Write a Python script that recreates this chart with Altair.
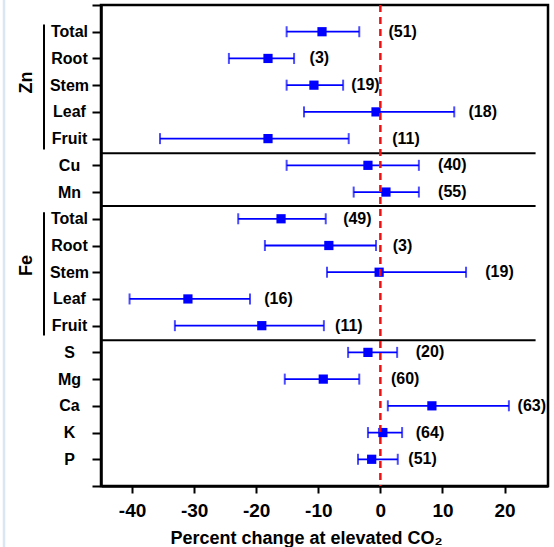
import json
import altair as alt
import pandas as pd

# ---- data ----
row_labels = ["Total", "Root", "Stem", "Leaf", "Fruit", "Cu", "Mn",
              "Total", "Root", "Stem", "Leaf", "Fruit", "S", "Mg", "Ca", "K", "P"]
means = [-9.4, -18.1, -10.7, -0.7, -18.1, -2.0, 0.9,
         -16.0, -8.3, -0.2, -31.0, -19.1, -2.0, -9.2, 8.3, 0.4, -1.4]
lows = [-15.1, -24.4, -15.1, -12.3, -35.5, -15.1, -4.3,
        -22.9, -18.6, -8.6, -40.4, -33.1, -5.2, -15.4, 1.2, -2.0, -3.6]
highs = [-3.4, -13.9, -6.0, 11.9, -5.1, 6.2, 6.2,
         -8.8, -0.7, 13.8, -21.0, -9.1, 2.7, -3.4, 20.7, 3.5, 2.8]
counts = ["(51)", "(3)", "(19)", "(18)", "(11)", "(40)", "(55)",
          "(49)", "(3)", "(19)", "(16)", "(11)", "(20)", "(60)", "(63)", "(64)", "(51)"]
count_x = [1.3, -11.4, -4.7, 14.2, 1.9, 9.3, 9.3,
           -6.0, 2.0, 16.9, -18.7, -7.3, 5.7, 1.7, 22.1, 5.7, 4.5]

group_breaks = [4.55, 6.52, 11.55]
group_names = ["Zn", "Fe"]
group_start = [-0.27, 6.76]
group_end = [4.41, 11.37]
group_label_row = [1.9, 8.75]

x_ticks = [-40, -30, -20, -10, 0, 10, 20]
x_domain = [-45, 27]
y_domain = [-1, 17]

FONT = "Liberation Sans"
BLUE = "#0000ff"

df = pd.DataFrame({
    "row": list(range(len(row_labels))),
    "name": row_labels,
    "mean": means,
    "lo": lows,
    "hi": highs,
    "n": counts,
    "nx": count_x,
})

xs = alt.Scale(domain=x_domain, nice=False, zero=False)
ys = alt.Scale(domain=y_domain, nice=False, zero=False, reverse=True)

label_arr = json.dumps(row_labels)
y_axis = alt.Axis(
    values=list(range(-1, 18)),
    labelExpr=f"datum.value >= 0 && datum.value <= 16 ? {label_arr}[datum.value] : ''",
    labelOverlap=False,
    tickSize=9, tickWidth=2, tickColor="black",
    domainWidth=2.5, domainColor="black",
    labelAlign="center", labelBaseline="middle", labelPadding=23,
    labelFont=FONT, labelFontSize=16, labelFontWeight="bold", labelColor="black",
    grid=False, title=None,
)
x_axis = alt.Axis(
    values=x_ticks, labelExpr="'' + datum.value",
    labelOverlap=False,
    tickSize=7, tickWidth=2, tickColor="black",
    domainWidth=2.5, domainColor="black",
    labelFont=FONT, labelFontSize=19, labelFontWeight="bold", labelColor="black",
    labelPadding=8, labelFlush=False,
    grid=False,
    title="Percent change at elevated CO₂",
    titleFont=FONT, titleFontSize=18, titleFontWeight="bold", titleColor="black",
    titleBaseline="alphabetic", titleY=57, titleX=205, titleAlign="center",
)

X = lambda f: alt.X(f, scale=xs, axis=x_axis)
Y = lambda f: alt.Y(f, scale=ys, axis=y_axis)

base = alt.Chart(df)

bars = base.mark_rule(color=BLUE, strokeWidth=1.8).encode(
    x=X("lo:Q"), x2="hi:Q", y=Y("row:Q"),
)
caps = base.transform_fold(["lo", "hi"], as_=["end", "xv"]).mark_tick(
    color=BLUE, orient="vertical", size=11, thickness=2
).encode(x=X("xv:Q"), y=Y("row:Q"))
pts = base.mark_square(color=BLUE, size=85, opacity=1).encode(
    x=X("mean:Q"), y=Y("row:Q"),
)
txt = base.mark_text(align="left", baseline="middle", font=FONT, fontSize=16,
                     fontWeight="bold", color="black").encode(
    x=X("nx:Q"), y=Y("row:Q"), text="n:N",
)

zero = alt.Chart(pd.DataFrame({"z": [0]})).mark_rule(
    color="#ee1111", strokeWidth=2.5, strokeDash=[7, 5]
).encode(x=X("z:Q"))

seps = alt.Chart(pd.DataFrame({"b": group_breaks, "x1": [x_domain[0]] * 3, "x2": [25] * 3})).mark_rule(
    color="black", strokeWidth=2
).encode(x=X("x1:Q"), x2="x2:Q", y=Y("b:Q"))

gdf = pd.DataFrame({"g": group_names, "s": group_start, "e": group_end, "m": group_label_row})
brackets = alt.Chart(gdf).mark_rule(color="black", strokeWidth=2).encode(
    x=alt.value(-57), y=Y("s:Q"), y2="e:Q",
)
glabels = alt.Chart(gdf).mark_text(
    angle=270, align="center", baseline="middle", font=FONT, fontSize=18,
    fontWeight="bold", color="black"
).encode(x=alt.value(-74), y=Y("m:Q"), text="g:N")

# thin light-blue page edge seen at the far left of the reference
edge = alt.Chart(pd.DataFrame({"e": [0]})).mark_rule(color="#dbe6f4", strokeWidth=2.5).encode(
    x=alt.value(-97), y=alt.value(-5), y2=alt.value(542),
)

chart = alt.layer(edge, bars, caps, pts, seps, zero, txt, brackets, glabels).properties(
    width=447, height=481,
    autosize=alt.AutoSizeParams(type="none"),
    padding={"left": 101, "top": 5, "right": 6, "bottom": 61},
    background="white",
).configure_view(stroke="black", strokeWidth=2.5).configure_axis(labelOverlap=False)

chart.save("out.html", embed_options={"renderer": "svg", "actions": False})
